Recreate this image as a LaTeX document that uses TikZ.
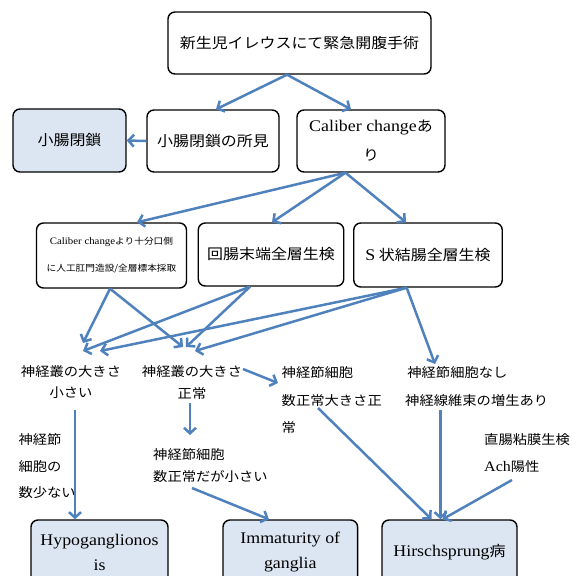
\documentclass[tikz,border=0pt]{standalone}
\usepackage{fontspec}
\setmainfont[FakeStretch=1.1]{Noto Sans CJK JP}
\newfontfamily\lat[FakeStretch=1.1,Scale=1.12]{Liberation Serif}
\usetikzlibrary{arrows.meta}
\definecolor{arrblue}{HTML}{4F81BD}
\definecolor{resfill}{HTML}{DCE6F2}
\begin{document}
\begin{tikzpicture}[x=1pt,y=-1pt,
  box/.style={draw=black, line width=1.4pt, rounded corners=7pt, fill=white,
    align=center, inner sep=0pt, font=\fontsize{14.5}{29}\selectfont},
  resbox/.style={box, fill=resfill},
  lbl/.style={inner sep=0pt, font=\fontsize{13}{27}\selectfont},
  arr/.style={draw=arrblue, line width=2.5pt, -{Straight Barb[length=5.5pt,width=12pt]}}]
\useasboundingbox (0,0) rectangle (571,576);
\clip (0,0) rectangle (571,576);

% boxes
\node[box, minimum width=263, minimum height=62] (top) at (299.5,43) {新生児イレウスにて緊急開腹手術};
\node[resbox, minimum width=113, minimum height=63] (sho) at (69.5,140.5) {小腸閉鎖};
\node[box, minimum width=132, minimum height=62] (shoken) at (213,141) {小腸閉鎖の所見};
\node[box, minimum width=148, minimum height=62] (cal) at (371,141) {{\lat Caliber change}あ\\り};
\node[box, minimum width=150, minimum height=65, font=\fontsize{8.8}{27}\selectfont] (calmid) at (111.5,255.5)
  {{\lat Caliber change}より十分口側\\に人工肛門造設/全層標本採取};
\node[box, minimum width=145.5, minimum height=63] (kai) at (271,254.5) {回腸末端全層生検};
\node[box, minimum width=148.5, minimum height=64] (sjo) at (428,255) {{\lat S} 状結腸全層生検};
\node[resbox, minimum width=137, minimum height=64, font=\fontsize{14.5}{25}\selectfont] (hypo) at (99.5,552) {{\lat Hypoganglionos}\\{\lat is}};
\node[resbox, minimum width=134.6, minimum height=64, font=\fontsize{14.5}{25}\selectfont] (imm) at (290.3,552) {{\lat Immaturity of}\\{\lat ganglia}};
\node[resbox, minimum width=135, minimum height=64] (hir) at (449.5,552) {{\lat Hirschsprung}病};

% labels
\node[lbl, align=center, font=\fontsize{13}{21}\selectfont] (L1) at (71,382.5) {神経叢の大きさ\\小さい};
\node[lbl, align=center, font=\fontsize{13}{22}\selectfont] (L2) at (192,383) {神経叢の大きさ\\正常};
\node[lbl, align=left, anchor=west, font=\fontsize{13}{27.5}\selectfont] (L3) at (281.5,400.5) {神経節細胞\\数正常大きさ正\\常};
\node[lbl, align=left, anchor=west, font=\fontsize{13}{28}\selectfont] (L4) at (405,387) {\,神経節細胞なし\\神経線維束の増生あり};
\node[lbl, align=left, anchor=west, font=\fontsize{13}{26.5}\selectfont] (L5) at (18.3,466.5) {神経節\\細胞の\\数少ない};
\node[lbl, align=left, anchor=west, font=\fontsize{13}{22}\selectfont] (L6) at (153,466) {神経節細胞\\数正常だが小さい};
\node[lbl, align=left, anchor=west, font=\fontsize{13}{27}\selectfont] (L7) at (484,453.5) {直腸粘膜生検\\{\lat Ach}陽性};

% free arrow ends / starts
\coordinate (e1) at (83,343);
\coordinate (e2) at (83,351);
\coordinate (e3) at (100,351);
\coordinate (e4) at (183,347);
\coordinate (e5) at (186,347);
\coordinate (e6) at (195,351);
\coordinate (e7) at (435,364);
\coordinate (s8) at (243,369);
\coordinate (e8) at (278,383);
\coordinate (s9) at (190,403);
\coordinate (e9) at (190,435);
\coordinate (s10) at (75,410);
\coordinate (s11) at (192,488);
\coordinate (s12) at (318,408);
\coordinate (s13) at (440.5,410);
\coordinate (s14) at (512,480);

% connectors
\draw[arr] ([xshift=-12.5pt]top.south) -- ([xshift=3pt]shoken.north);
\draw[arr] ([xshift=-12.5pt]top.south) -- ([xshift=-20pt]cal.north);
\draw[arr] (shoken.west) -- (sho.east);
\draw[arr] ([xshift=-25.5pt]cal.south) -- ([xshift=25.5pt]calmid.north);
\draw[arr] ([xshift=-25.5pt]cal.south) -- ([xshift=1pt]kai.north);
\draw[arr] ([xshift=-25.5pt]cal.south) -- ([xshift=-22pt]sjo.north);
\draw[arr] ([xshift=-1.5pt]calmid.south) -- (e1);
\draw[arr] ([xshift=-1.5pt]calmid.south) -- (e4);
\draw[arr] ([xshift=-21pt]kai.south) -- (e2);
\draw[arr] ([xshift=-21pt]kai.south) -- (e5);
\draw[arr] ([xshift=-21.3pt]sjo.south) -- (e3);
\draw[arr] ([xshift=-21.3pt]sjo.south) -- (e6);
\draw[arr] ([xshift=-21.3pt]sjo.south) -- (e7);
\draw[arr] (s8) -- (e8);
\draw[arr] (s9) -- (e9);
\draw[arr] (s10) -- ([xshift=-24.5pt]hypo.north);
\draw[arr] (s11) -- ([xshift=-21.3pt]imm.north);
\draw[arr] (s12) -- ([xshift=-18pt]hir.north);
\draw[arr] (s13) -- ([xshift=-9pt]hir.north);
\draw[arr] (s14) -- ([xshift=-7pt]hir.north);
\end{tikzpicture}
\end{document}
